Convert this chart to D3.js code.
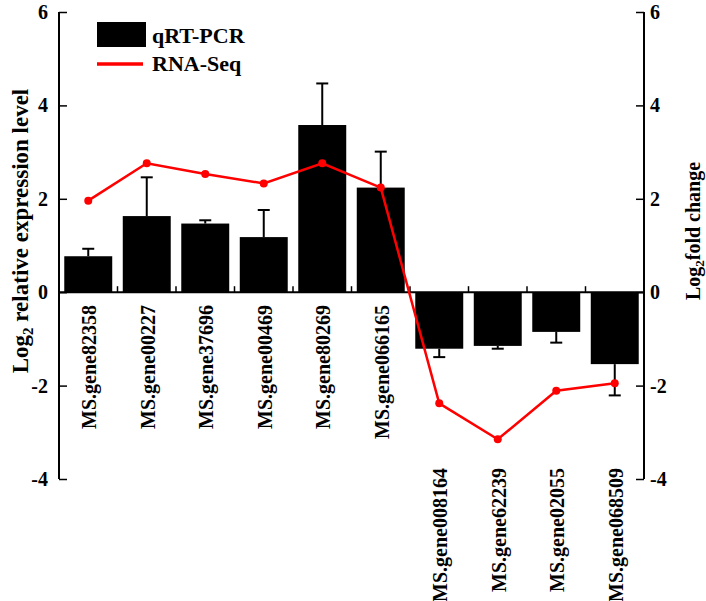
<!DOCTYPE html>
<html>
<head>
<meta charset="utf-8">
<script src="https://cdn.jsdelivr.net/npm/d3@7"></script>
<style>
  body { margin: 0; background: #fff; }
  svg text { font-family: "Liberation Serif", "Times New Roman", serif; font-weight: bold; fill: #000; }
</style>
</head>
<body>
<svg></svg>
<script>
// qRT-PCR vs RNA-Seq, log2 values
let genes = [
    'MS.gene82358', 'MS.gene00227', 'MS.gene37696', 'MS.gene00469', 'MS.gene80269',
    'MS.gene066165', 'MS.gene008164', 'MS.gene62239', 'MS.gene02055', 'MS.gene068509'
];
let qpcr = [0.77, 1.63, 1.47, 1.18, 3.58, 2.24, -1.21, -1.15, -0.85, -1.54];
let qpcrErr = [0.16, 0.83, 0.07, 0.58, 0.89, 0.77, 0.18, 0.06, 0.23, 0.67];
let rnaSeq = [1.96, 2.76, 2.53, 2.33, 2.76, 2.24, -2.38, -3.15, -2.11, -1.95];
let ticks = [-4, -2, 0, 2, 4, 6];

let width = 706,
    height = 601;

let svg = d3.select("svg")
    .attr("width", width)
    .attr("height", height);

let left = 59, right = 644;

let x = d3.scaleBand().domain(genes).range([left, right])
    .paddingInner(0.18).paddingOuter(0.09);
let y = d3.scaleLinear().domain([-4, 6]).range([479, 12]);

let step = x.step();

// bars
svg.append("g").selectAll("rect")
    .data(genes)
    .enter().append("rect")
    .attr("x", d => x(d))
    .attr("width", x.bandwidth())
    .attr("y", (d, i) => y(Math.max(0, qpcr[i])))
    .attr("height", (d, i) => Math.abs(y(qpcr[i]) - y(0)))
    .attr("fill", "#000");

// error bars, one-sided
let eb = svg.append("g").attr("stroke", "#000").attr("stroke-width", 2);
genes.forEach((g, i) => {
    let cx = x(g) + x.bandwidth() / 2;
    let v = qpcr[i];
    let e = v >= 0 ? v + qpcrErr[i] : v - qpcrErr[i];
    eb.append("line").attr("x1", cx).attr("x2", cx).attr("y1", y(v)).attr("y2", y(e));
    eb.append("line").attr("x1", cx - 6).attr("x2", cx + 6).attr("y1", y(e)).attr("y2", y(e));
});

// zero line with small category ticks
svg.append("line")
    .attr("x1", left).attr("x2", right)
    .attr("y1", y(0)).attr("y2", y(0))
    .attr("stroke", "#000").attr("stroke-width", 2);
svg.append("g").selectAll("line")
    .data(genes.slice(1))
    .enter().append("line")
    .attr("x1", d => x(d) - step * 0.09).attr("x2", d => x(d) - step * 0.09)
    .attr("y1", y(0)).attr("y2", y(0) - 6)
    .attr("stroke", "#000").attr("stroke-width", 1.5);

// left axis
let yl = svg.append("g").attr("transform", `translate(${left},0)`)
    .call(d3.axisRight(y).tickValues(ticks).tickSize(8).tickFormat(""));
yl.select(".domain").attr("d", `M0,${y(-4)}V${y(6)}`).attr("stroke-width", 2);
yl.selectAll(".tick line").attr("stroke-width", 1.5);
svg.append("g").selectAll("text")
    .data(ticks)
    .enter().append("text")
    .attr("x", 48).attr("y", d => y(d)).attr("dy", "0.35em")
    .attr("text-anchor", "end").attr("font-size", 20)
    .text(d => d);

// right axis
let yr = svg.append("g").attr("transform", `translate(${right},0)`)
    .call(d3.axisLeft(y).tickValues(ticks).tickSize(8).tickFormat(""));
yr.select(".domain").attr("d", `M0,${y(-4)}V${y(6)}`).attr("stroke-width", 2);
yr.selectAll(".tick line").attr("stroke-width", 1.5);
svg.append("g").selectAll("text")
    .data(ticks)
    .enter().append("text")
    .attr("x", 650).attr("y", d => y(d)).attr("dy", "0.35em")
    .attr("text-anchor", "start").attr("font-size", 20)
    .text(d => d);

// RNA-Seq line
let line = d3.line()
    .x((d, i) => x(genes[i]) + x.bandwidth() / 2)
    .y(d => y(d));
svg.append("path")
    .datum(rnaSeq)
    .attr("d", line)
    .attr("fill", "none")
    .attr("stroke", "#ff0000")
    .attr("stroke-width", 2.5);
svg.append("g").selectAll("circle")
    .data(rnaSeq)
    .enter().append("circle")
    .attr("cx", (d, i) => x(genes[i]) + x.bandwidth() / 2)
    .attr("cy", d => y(d))
    .attr("r", 4)
    .attr("fill", "#ff0000");

// category labels, below the zero line or below the axis for negatives
svg.append("g").selectAll("text")
    .data(genes)
    .enter().append("text")
    .attr("transform", (d, i) => {
        let ly = qpcr[i] >= 0 ? 305 : 468;
        return `translate(${x(d) + x.bandwidth() / 2},${ly}) rotate(-90)`;
    })
    .attr("dy", 8)
    .attr("text-anchor", "end")
    .attr("font-size", 20)
    .text(d => d);

// axis titles
let tl = svg.append("text")
    .attr("transform", "translate(28,231) rotate(-90)")
    .attr("text-anchor", "middle")
    .attr("font-size", 23);
tl.append("tspan").text("Log");
tl.append("tspan").attr("font-size", 15).attr("dy", 5).text("2");
tl.append("tspan").attr("dy", -5).text(" relative expression level");

let tr = svg.append("text")
    .attr("transform", "translate(700,231) rotate(-90)")
    .attr("text-anchor", "middle")
    .attr("font-size", 20);
tr.append("tspan").text("Log");
tr.append("tspan").attr("font-size", 13).attr("dy", 4).text("2");
tr.append("tspan").attr("dy", -4).text("fold change");

// legend
let lg = svg.append("g");
lg.append("rect").attr("x", 97).attr("y", 22).attr("width", 49).attr("height", 25).attr("fill", "#000");
lg.append("text").attr("x", 152).attr("y", 43).attr("font-size", 22).text("qRT-PCR");
lg.append("line").attr("x1", 97).attr("x2", 143).attr("y1", 64).attr("y2", 64)
    .attr("stroke", "#ff0000").attr("stroke-width", 3.5);
lg.append("text").attr("x", 152).attr("y", 71).attr("font-size", 22).text("RNA-Seq");
</script>
</body>
</html>
